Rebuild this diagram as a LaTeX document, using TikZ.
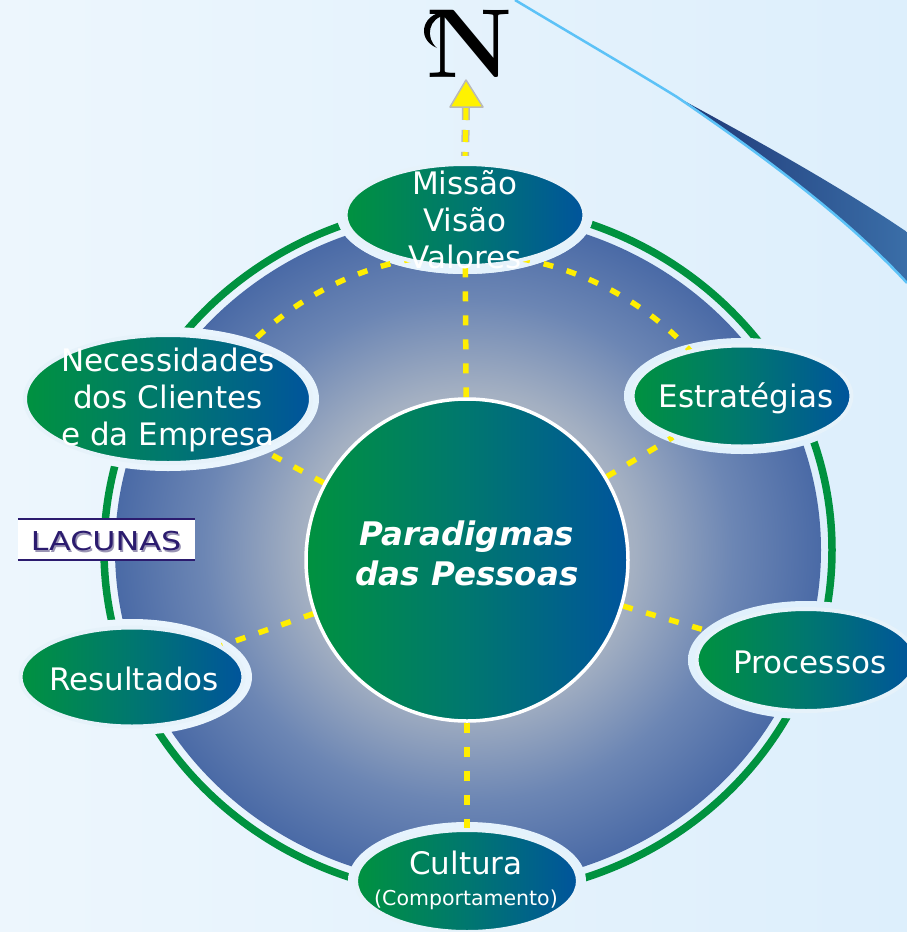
\documentclass[tikz,border=0pt]{standalone}
\usepackage{fontspec}
\usepackage{graphicx}
\usetikzlibrary{shapes.geometric}
\newfontfamily\dvs{DejaVu Sans}
\definecolor{bgL}{HTML}{F5FAFE}
\definecolor{bgR}{HTML}{D5EBFB}
\definecolor{gL}{HTML}{00923F}
\definecolor{gM}{HTML}{00776F}
\definecolor{gR}{HTML}{00549C}
\definecolor{ringG}{HTML}{00923F}
\definecolor{rim}{HTML}{E6F2FA}
\definecolor{dashY}{HTML}{FFEE00}
\definecolor{lacP}{HTML}{2B1B6E}
\definecolor{lacS}{HTML}{9A94B4}
\definecolor{navy}{HTML}{1F3876}
\definecolor{steel}{HTML}{3A6EA8}
\definecolor{sky}{HTML}{5CC2F7}
\definecolor{dcA}{HTML}{D6DADE}
\definecolor{dcB}{HTML}{A4B0C2}
\definecolor{dcC}{HTML}{6C86B4}
\definecolor{dcD}{HTML}{4A6AA6}
\pgfdeclareradialshading{diskshade}{\pgfpoint{0bp}{0bp}}{color(0bp)=(dcA); color(11.75bp)=(dcB); color(18.75bp)=(dcC); color(25bp)=(dcD); color(50bp)=(dcD)}
\pgfdeclarehorizontalshading{bgsh}{100bp}{color(0bp)=(bgL); color(100bp)=(bgR)}
\pgfdeclarelayer{bg}
\pgfdeclarelayer{mid}
\pgfsetlayers{bg,mid,main}
\begin{document}
\begin{tikzpicture}[x=1pt,y=-1pt,
  bubble/.style={ellipse, inner sep=0pt, draw=rim, line width=4pt,
    left color=gL, right color=gR, middle color=gM},
  btxt/.style={text=white, align=center, inner sep=0pt,
    font=\dvs\fontsize{31}{37}\selectfont},
  spoke/.style={draw=dashY, line width=5.5pt, dash pattern=on 10pt off 14pt},
  arrowout/.style={draw=gray!55, line width=8pt, dash pattern=on 12pt off 10pt},
  arrowin/.style={draw=yellow, line width=5pt, dash pattern=on 12pt off 10pt},
]
\useasboundingbox (0,0) rectangle (907,932);

\coordinate (cM) at (465,215);
\coordinate (cN) at (168,399);
\coordinate (cE) at (742,396);
\coordinate (cP) at (806,660);
\coordinate (cR) at (132,677);
\coordinate (cC) at (467,881);

\begin{pgfonlayer}{bg}
  \shade[shading=bgsh] (0,0) rectangle (907,932);
  % swoosh
  \shade[left color=navy, right color=steel]
    (677,97) .. controls (745,134) and (835,183) .. (907,232)
    -- (907,283) .. controls (840,210) and (740,140) .. (677,97) -- cycle;
  \draw[sky, line width=2.5pt] (515,0) .. controls (580,39) and (630,68) .. (677,97)
    .. controls (740,140) and (840,210) .. (907,283);
  % disk and ring
  \shade[shading=diskshade] (468,550) ellipse [x radius=353, y radius=335];
  \draw[ringG, line width=7.5pt] (468,550) ellipse [x radius=364, y radius=346];
  % gaps round the ellipses
  \foreach \c/\rx/\ry in {cM/128/59, cN/151/72, cE/118/58, cP/118/59, cR/120/58, cC/119/59}{
    \begin{scope}
      \clip (\c) ellipse [x radius=\rx, y radius=\ry];
      \shade[shading=bgsh] (0,0) rectangle (907,932);
    \end{scope}
  }
\end{pgfonlayer}

% nodes
\node[circle, minimum size=322pt, draw=white, line width=3.5pt, inner sep=0pt,
  left color=gL, right color=gR, middle color=gM] (par) at (467,560) {};
\node[text=white, align=center, inner sep=0pt,
  font=\dvs\bfseries\itshape\fontsize{32.5}{40}\selectfont] (parT) at (467,553) {Paradigmas\\das Pessoas};

\node[bubble, minimum width=239pt, minimum height=102pt] (missao) at (cM) {};
\node[btxt] (missaoT) at (465,220) {Missão\\Visão\\Valores};

\node[bubble, minimum width=286pt, minimum height=128pt] (neces) at (cN) {};
\node[btxt] (necesT) at (168,400) {Necessidades\\dos Clientes\\e da Empresa};

\node[bubble, minimum width=219pt, minimum height=101pt] (estr) at (cE) {};
\node[btxt] (estrT) at (746,398) {Estratégias};

\node[bubble, minimum width=219pt, minimum height=102pt] (proc) at (cP) {};
\node[btxt] (procT) at (810,662) {Processos};

\node[bubble, minimum width=223pt, minimum height=99pt] (resu) at (cR) {};
\node[btxt] (resuT) at (134,679) {Resultados};

\node[bubble, minimum width=222pt, minimum height=102pt] (cult) at (cC) {};
\node[btxt] (cultT) at (466,880) {Cultura\\[-6pt]{\fontsize{20.5}{24}\selectfont(Comportamento)}};

% spokes and arcs
\begin{pgfonlayer}{mid}
  \draw[spoke] (par) -- (missao);
  \draw[spoke] (par) -- (neces);
  \draw[spoke] (par) -- (estr);
  \draw[spoke] (par) -- (proc);
  \draw[spoke] (par) -- (resu);
  \draw[spoke] (par) -- (cult);
  \draw[spoke] ([shift={(-80:306)}]par.center) arc[start angle=-80, end angle=-40, radius=306];
  \draw[spoke] ([shift={(-100:306)}]par.center) arc[start angle=-100, end angle=-140, radius=306];
\end{pgfonlayer}
\begin{pgfonlayer}{bg}
  \coordinate (abase) at (466,108);
  \draw[arrowout] (abase) -- (missao.north);
  \draw[arrowin] (abase) -- (missao.north);
  \begin{scope}
    \clip (cM) ellipse [x radius=128, y radius=59];
    \shade[shading=bgsh] (0,0) rectangle (907,932);
  \end{scope}
\end{pgfonlayer}

% north arrow
\filldraw[fill=yellow, draw=gray!55, line width=1.5pt, line join=round]
  (450,107) -- (466,80) -- (483,107) -- cycle;
\node[inner sep=0pt, font=\bfseries\fontsize{98}{98}\selectfont] (north) at (470,44) {N};
% swash of the N
\fill[black] (447,12) .. controls (424,11) and (414,38) .. (437,48)
  .. controls (425,38) and (428,17) .. (447,15) -- cycle;

% LACUNAS
\node[fill=white, minimum width=177pt, minimum height=41pt, inner sep=0pt] (lac) at (106.5,539.5) {};
\draw[lacP, line width=2.5pt] (lac.north west) -- (lac.north east);
\draw[lacP, line width=2.5pt] (lac.south west) -- (lac.south east);
\node[text=lacS, inner sep=0pt, font=\dvs\fontsize{26}{28}\selectfont] (lacS) at (107.5,543) {\scalebox{1.22}[1]{LACUNAS}};
\node[text=lacP, inner sep=0pt, font=\dvs\fontsize{26}{28}\selectfont] (lacT) at (106,541.5) {\scalebox{1.22}[1]{LACUNAS}};
\end{tikzpicture}
\end{document}
